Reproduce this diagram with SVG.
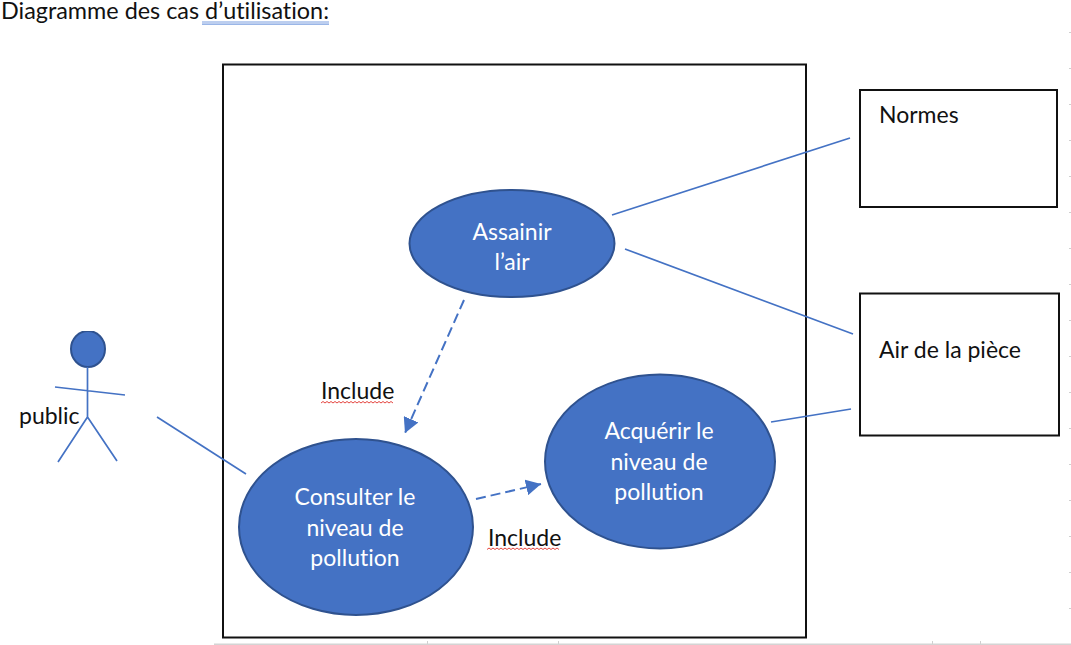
<svg xmlns="http://www.w3.org/2000/svg" width="1071" height="645" viewBox="0 0 1071 645">
<defs>
<marker id="arrow" markerUnits="userSpaceOnUse" markerWidth="16" markerHeight="16" refX="15" refY="8" orient="auto"><path d="M0 0L15 8L0 16Z" fill="#4472c4"/></marker>
<clipPath id="headclip"><rect x="60" y="331" width="60" height="45"/></clipPath>
</defs>
<style>
text{font-family:"Lato","Open Sans","Liberation Sans",sans-serif;font-size:23px;fill:#111;font-variant-ligatures:none}
.w{fill:#fff;text-anchor:middle}
.uc{fill:#4472c4;stroke:#2f528f;stroke-width:2}
.box{fill:#fff;stroke:#111;stroke-width:2}
.c{fill:none;stroke:#4472c4;stroke-width:1.7}
.d{stroke-width:2;stroke-dasharray:10 5;marker-end:url(#arrow)}
.sq{fill:none;stroke:#e4453f;stroke-width:1}
.t{stroke:#cfcfcf;stroke-width:1;fill:none}
.ul{stroke:#7a9ee0;stroke-width:1.2;fill:none}
</style>
<rect width="1071" height="645" fill="#fff"/>
<g id="page-marks">
<path class="t" d="M427.500 641V644M558.500 641V644M932.500 641V644M980.500 641V644M1069 32.500H1071M1069 68.500H1071M1069 104.500H1071M1069 140.500H1071M1069 176.500H1071M1069 212.500H1071M1069 248.500H1071M1069 284.500H1071M1069 320.500H1071M1069 356.500H1071M1069 392.500H1071M1069 428.500H1071M1069 464.500H1071M1069 500.500H1071M1069 536.500H1071M1069 572.500H1071M1069 608.500H1071"/>
<path d="M214 644.300H1071" stroke="#d4d4d4" stroke-width="1.500" fill="none"/>
</g>
<g id="title"><text x="1" y="19" textLength="328" lengthAdjust="spacingAndGlyphs">Diagramme des cas d’utilisation:</text><path class="ul" d="M202 22H329M202 24.200H329"/></g>
<g id="system"><rect class="box" x="223" y="64.500" width="583" height="573"/></g>
<g id="connectors">
<path class="c" d="M157 417L246 474"/>
<path class="c" d="M612 215L850 138"/>
<path class="c" d="M625 249L853 334"/>
<path class="c" d="M771 422L851 409"/>
<path class="c d" d="M464 300L405 433"/>
<path class="c d" d="M476 499L541 484"/>
</g>
<g id="actor-public">
<ellipse class="uc" cx="88" cy="349" rx="17" ry="18" clip-path="url(#headclip)"/>
<path class="c" d="M87.500 367V417M55 387L125 395M87.500 417L58 462M87.500 417L117 461"/>
<text x="19" y="424">public</text>
</g>
<g id="uc-assainir"><ellipse class="uc" cx="512" cy="243.500" rx="102.500" ry="53.500"/><text class="w" x="512" y="240">Assainir</text><text class="w" x="512" y="270">l’air</text></g>
<g id="uc-consulter"><ellipse class="uc" cx="356" cy="527" rx="117" ry="88"/><text class="w" x="355" y="505">Consulter le</text><text class="w" x="355" y="536">niveau de</text><text class="w" x="355" y="566">pollution</text></g>
<g id="uc-acquerir"><ellipse class="uc" cx="660" cy="461.500" rx="115" ry="87"/><text class="w" x="659" y="439">Acquérir le</text><text class="w" x="659" y="470">niveau de</text><text class="w" x="659" y="500">pollution</text></g>
<g id="label-include-1"><text x="321" y="399">Include</text><path class="sq" d="M321 403l2 -1.500l2 1.500l2 -1.500l2 1.500l2 -1.500l2 1.500l2 -1.500l2 1.500l2 -1.500l2 1.500l2 -1.500l2 1.500l2 -1.500l2 1.500l2 -1.500l2 1.500l2 -1.500l2 1.500l2 -1.500l2 1.500l2 -1.500l2 1.500l2 -1.500l2 1.500l2 -1.500l2 1.500l2 -1.500l2 1.500l2 -1.500l2 1.500l2 -1.500l2 1.500l2 -1.500l2 1.500l2 -1.500l2 1.500"/></g>
<g id="label-include-2"><text x="488" y="546">Include</text><path class="sq" d="M487 549.500l2 -1.500l2 1.500l2 -1.500l2 1.500l2 -1.500l2 1.500l2 -1.500l2 1.500l2 -1.500l2 1.500l2 -1.500l2 1.500l2 -1.500l2 1.500l2 -1.500l2 1.500l2 -1.500l2 1.500l2 -1.500l2 1.500l2 -1.500l2 1.500l2 -1.500l2 1.500l2 -1.500l2 1.500l2 -1.500l2 1.500l2 -1.500l2 1.500l2 -1.500l2 1.500l2 -1.500l2 1.500l2 -1.500l2 1.500"/></g>
<g id="actor-normes"><rect class="box" x="860" y="90" width="197" height="117"/><text x="879" y="123">Normes</text></g>
<g id="actor-air"><rect class="box" x="860" y="293.500" width="199" height="142"/><text x="879" y="358">Air de la pièce</text></g>
</svg>
